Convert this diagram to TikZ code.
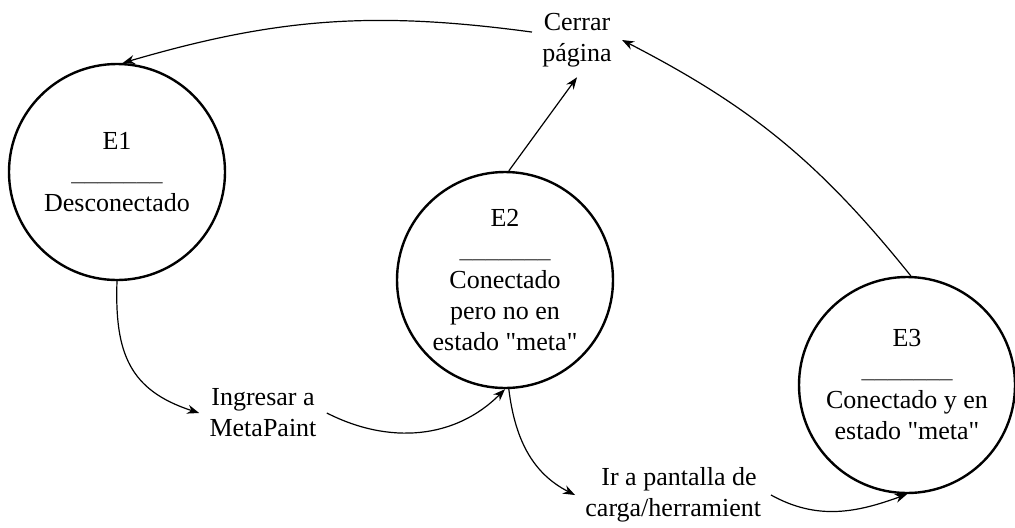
\documentclass[tikz,border=0pt]{standalone}
\usepackage{fontspec}
\setmainfont{Liberation Serif}
\usetikzlibrary{arrows.meta,positioning,calc}

\begin{document}
\begin{tikzpicture}[x=0.5pt,y=0.5pt]
  % Styles for states, transition labels and arrows
  \tikzset{statecircle/.style={draw=black, line width=1.2pt, circle, minimum size=108pt, inner sep=0pt, align=center, font=\fontsize{13}{15.5}\selectfont}}
  \tikzset{translabel/.style={align=center, inner sep=5pt, font=\fontsize{13}{15.5}\selectfont}}
  \tikzset{flow/.style={-{Stealth[length=6pt,width=4.5pt]}, line width=0.6pt}}

  \useasboundingbox (0,0) rectangle (1015,527);

  % E1
  \node[statecircle] (e1) at (117,355) {E1\\\textcolor{black!70}{\_\_\_\_\_\_\_}\\Desconectado};

  % E2
  \node[statecircle] (e2) at (505,247) {E2\\\textcolor{black!70}{\_\_\_\_\_\_\_}\\Conectado\\pero no en\\estado \textquotedbl meta\textquotedbl};

  % E3
  \node[statecircle] (e3) at (907,142) {E3\\\textcolor{black!70}{\_\_\_\_\_\_\_}\\Conectado y en\\estado \textquotedbl meta\textquotedbl};

  % Transition labels
  \node[translabel] (cerrar) at (577,487) {Cerrar\\página};
  \node[translabel] (ingresar) at (263,114) {Ingresar a\\MetaPaint};
  \begin{scope}
    \clip (0,0) rectangle (761,527);
    \node[translabel] (pantalla) at (679,32) {Ir a pantalla de\\carga/herramienta};
  \end{scope}

  % Transitions
  \draw[flow] (cerrar.170) to[bend right=12] (e1.87);
  \draw[flow] (e2.88) -- (cerrar.south);
  \draw[flow] (e3.88) to[bend right=12] (cerrar.east);
  \draw[flow] (e1.south) to[out=-92,in=162,looseness=1.2] (ingresar.west);
  \draw[flow] (ingresar.east) to[out=-27,in=-135] (e2.south);
  \draw[flow] (e2.-88) to[out=-83,in=153] (pantalla.west);
  \draw[flow] ([xshift=-6pt]pantalla.east) to[out=-29,in=-160] (e3.south);
\end{tikzpicture}
\end{document}
